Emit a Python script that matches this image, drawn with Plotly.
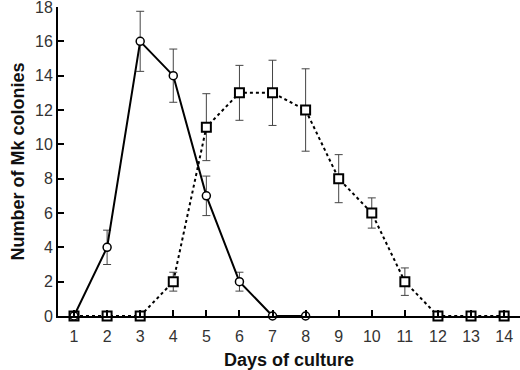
import plotly.graph_objects as go

days = list(range(1, 15))
circle_days = [1, 2, 3, 4, 5, 6, 7, 8]
circle_vals = [0, 4, 16, 14, 7, 2, 0, 0]
circle_err = [0, 1.0, 1.75, 1.55, 1.15, 0.55, 0, 0]
square_vals = [0, 0, 0, 2, 11, 13, 13, 12, 8, 6, 2, 0, 0, 0]
square_err = [0, 0, 0, 0.55, 1.95, 1.6, 1.9, 2.4, 1.4, 0.88, 0.8, 0, 0, 0]
x_ticks = list(range(1, 15))
y_ticks = list(range(0, 19, 2))

fig = go.Figure()
fig.add_trace(go.Scatter(
    x=days, y=square_vals, mode="lines+markers",
    line=dict(color="black", width=2, dash="dot"),
    marker=dict(symbol="square", size=9, color="white", line=dict(color="black", width=2)),
    error_y=dict(type="data", array=square_err, color="#444", thickness=1, width=4),
    showlegend=False, cliponaxis=False,
))
fig.add_trace(go.Scatter(
    x=circle_days, y=circle_vals, mode="lines+markers",
    line=dict(color="black", width=2),
    marker=dict(symbol="circle", size=8, color="white", line=dict(color="black", width=1.5)),
    error_y=dict(type="data", array=circle_err, color="#444", thickness=1, width=4),
    showlegend=False, cliponaxis=False,
))
fig.update_layout(
    width=520, height=370,
    margin=dict(l=58, r=0, t=7, b=54),
    plot_bgcolor="white", paper_bgcolor="white",
    font=dict(family="Liberation Sans, Arial, sans-serif", color="#222"),
)
fig.update_xaxes(
    range=[0.516, 14.48], tickvals=x_ticks, ticks="inside", ticklen=6, tickwidth=1.5,
    tickcolor="black", showline=True, linecolor="black", linewidth=2, automargin=False,
    showgrid=False, zeroline=False, tickfont=dict(size=16, color="#333"),
    ticklabeloverflow="allow", ticklabelstandoff=5,
    title=dict(text="<b>Days of culture</b>", font=dict(size=18, color="#111"), standoff=9),
)
fig.update_yaxes(
    range=[0, 18], tickvals=y_ticks, ticks="inside", ticklen=6, tickwidth=1.5,
    tickcolor="black", showline=True, linecolor="black", linewidth=2, automargin=False,
    showgrid=False, zeroline=False, tickfont=dict(size=16, color="#333"),
    ticklabeloverflow="allow",
    title=dict(text="<b>Number of Mk colonies</b>", font=dict(size=18, color="#111"), standoff=6),
)
fig.write_html("out.html", config={"displayModeBar": False},
               post_script="document.body.style.margin='0';")
